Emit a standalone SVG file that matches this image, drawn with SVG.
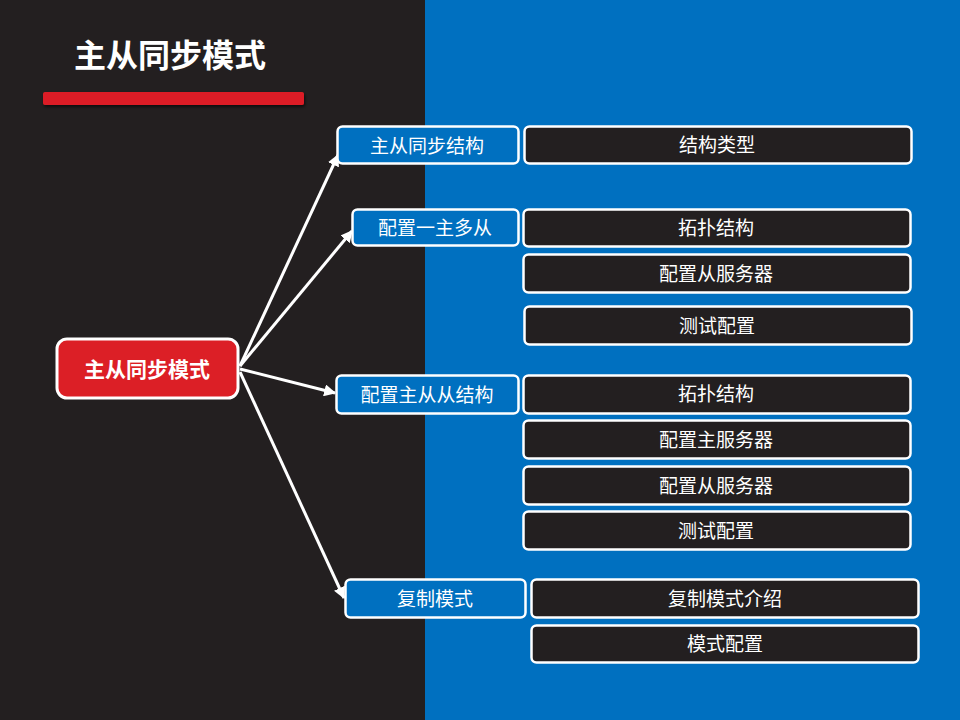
<svg xmlns="http://www.w3.org/2000/svg" width="960" height="720" viewBox="0 0 960 720">
<defs>
<marker id="arr" viewBox="0 0 10 10" refX="9" refY="5" markerWidth="4" markerHeight="4" orient="auto" markerUnits="strokeWidth">
<path d="M0,0 L10,5 L0,10 z" fill="#ffffff"/>
</marker>
<filter id="sh" x="-5%" y="-50%" width="110%" height="200%">
<feDropShadow dx="1" dy="2" stdDeviation="1.5" flood-color="#000" flood-opacity="0.6"/>
</filter>
</defs>
<style>
text{font-family:"Noto Sans CJK SC","Noto Sans",sans-serif;fill:#ffffff;text-anchor:middle;dominant-baseline:central}
.l1 rect{fill:#0070c0;stroke:#ffffff;stroke-width:2.5}
.l2 rect{fill:#231f20;stroke:#ffffff;stroke-width:2.5}
.t{font-size:19px}
.c{stroke:#ffffff;stroke-width:3;fill:none;marker-end:url(#arr)}
</style>
<rect x="0" y="0" width="425" height="720" fill="#231f20"/>
<rect x="425" y="0" width="535" height="720" fill="#0070c0"/>
<g id="title">
<text x="170" y="53" style="font-size:32px;font-weight:bold">主从同步模式</text>
<rect x="43" y="92" width="261" height="13" rx="2" fill="#dc1f26" filter="url(#sh)"/>
</g>
<g id="connectors">
<line class="c" x1="240" y1="366" x2="338" y2="155"/>
<line class="c" x1="240" y1="366" x2="352" y2="231"/>
<line class="c" x1="240" y1="369" x2="335" y2="393"/>
<line class="c" x1="240" y1="372" x2="344" y2="598"/>
</g>
<g id="root">
<rect x="57" y="339" width="181" height="59" rx="10" fill="#dc1f26" stroke="#ffffff" stroke-width="3"/>
<text x="147" y="368" style="font-size:21px;font-weight:bold">主从同步模式</text>
</g>
<g id="n1" class="l1"><rect x="337.5" y="126.5" width="181" height="37" rx="5"/><text class="t" x="427" y="144">主从同步结构</text></g>
<g id="n2" class="l1"><rect x="352.5" y="209.5" width="166" height="36" rx="5"/><text class="t" x="435" y="226">配置一主多从</text></g>
<g id="n3" class="l1"><rect x="336.5" y="375.5" width="182" height="38" rx="5"/><text class="t" x="427" y="393">配置主从从结构</text></g>
<g id="n4" class="l1"><rect x="345.5" y="579.5" width="180" height="38" rx="5"/><text class="t" x="435" y="597">复制模式</text></g>
<g id="n1a" class="l2"><rect x="524.5" y="126.5" width="387" height="37" rx="5"/><text class="t" x="717" y="143">结构类型</text></g>
<g id="n2a" class="l2"><rect x="523.5" y="209.5" width="387" height="37" rx="5"/><text class="t" x="716" y="226">拓扑结构</text></g>
<g id="n2b" class="l2"><rect x="523.5" y="254.5" width="387" height="38" rx="5"/><text class="t" x="716" y="272">配置从服务器</text></g>
<g id="n2c" class="l2"><rect x="524.5" y="306.5" width="387" height="38" rx="5"/><text class="t" x="717" y="324">测试配置</text></g>
<g id="n3a" class="l2"><rect x="523.5" y="375.5" width="387" height="38" rx="5"/><text class="t" x="716" y="392">拓扑结构</text></g>
<g id="n3b" class="l2"><rect x="523.5" y="420.5" width="387" height="38" rx="5"/><text class="t" x="716" y="438">配置主服务器</text></g>
<g id="n3c" class="l2"><rect x="523.5" y="466.5" width="387" height="38" rx="5"/><text class="t" x="716" y="484">配置从服务器</text></g>
<g id="n3d" class="l2"><rect x="523.5" y="511.5" width="387" height="38" rx="5"/><text class="t" x="716" y="529">测试配置</text></g>
<g id="n4a" class="l2"><rect x="531.5" y="579.5" width="387" height="38" rx="5"/><text class="t" x="725" y="597">复制模式介绍</text></g>
<g id="n4b" class="l2"><rect x="531.5" y="625.5" width="387" height="37" rx="5"/><text class="t" x="725" y="642">模式配置</text></g>
</svg>
